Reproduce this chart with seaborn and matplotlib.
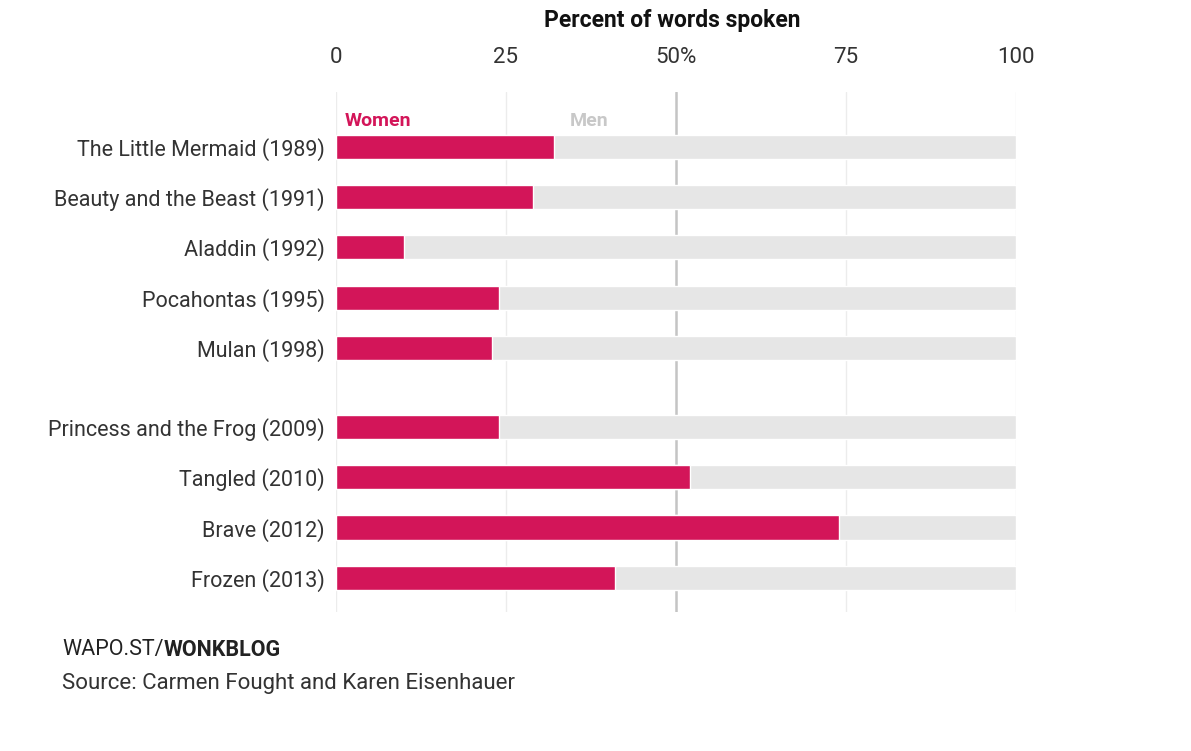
import matplotlib
matplotlib.use("Agg")
import matplotlib.pyplot as plt
import numpy as np
import pandas as pd
import seaborn as sns

# data
movies = ["The Little Mermaid (1989)", "Beauty and the Beast (1991)", "Aladdin (1992)",
          "Pocahontas (1995)", "Mulan (1998)", "Princess and the Frog (2009)",
          "Tangled (2010)", "Brave (2012)", "Frozen (2013)"]
women = [32, 29, 10, 24, 23, 24, 52, 74, 41]
men = [68, 71, 90, 76, 77, 76, 48, 26, 59]
ticks = [0, 25, 50, 75, 100]
tick_labels = ["0", "25", "50%", "75", "100"]

WOMEN_C = "#d31559"
MEN_C = "#e6e6e6"
TEXT_C = "#333333"

sns.set_theme(style="white")
plt.rcParams["font.family"] = ["Roboto", "DejaVu Sans"]

# gap between the 90s films and the newer ones
gap = 0.57
ypos = [i + (gap if i >= 5 else 0) for i in range(len(movies))]

df = pd.DataFrame({"movie": movies, "y": ypos, "Women": women, "Men": men})
df["total"] = df["Women"] + df["Men"]

fig = plt.figure(figsize=(11.91, 7.51), dpi=100)
ax = fig.add_axes([336 / 1191, 1 - 612 / 751, 680 / 1191, 520 / 751])

for x in ticks:
    if x == 50:
        ax.axvline(x, color="#c4c4c4", lw=1.8, zorder=0)
    else:
        ax.axvline(x, color="#ececec", lw=1.0, zorder=0)

sns.barplot(data=df, x="total", y="y", orient="h", native_scale=True,
            color=MEN_C, width=0.48, saturation=1, ax=ax, zorder=2)
sns.barplot(data=df, x="Women", y="y", orient="h", native_scale=True,
            color=WOMEN_C, width=0.48, saturation=1, ax=ax, zorder=3)

ax.set_xlim(0, 100)
ax.set_ylim(ypos[-1] + 0.68, -1.09)
ax.set_yticks(ypos)
ax.set_yticklabels(movies, fontsize=15.5, color=TEXT_C)
ax.set_xticks(ticks)
ax.set_xticklabels(tick_labels, fontsize=16, color=TEXT_C)
ax.xaxis.tick_top()
ax.tick_params(axis="x", length=0, pad=17)
ax.tick_params(axis="y", length=0, pad=8)
ax.set_xlabel("")
ax.set_ylabel("")
for s in ax.spines.values():
    s.set_visible(False)

ax.text(1.3, -0.52, "Women", color=WOMEN_C, fontsize=14, fontweight="bold",
        va="center", ha="left")
ax.text(34.4, -0.52, "Men", color="#c8c8c8", fontsize=14, fontweight="bold",
        va="center", ha="left")

fig.text(672 / 1191, 1 - 20 / 751, "Percent of words spoken", fontsize=16.5,
         fontweight="bold", color="#111111", ha="center", va="center")

# footer
fig.canvas.draw()
r = fig.canvas.get_renderer()
t1 = fig.text(62 / 1191, 1 - 650 / 751, "WAPO.ST/", fontsize=15.5, color="#222222",
              ha="left", va="center")
bb = t1.get_window_extent(renderer=r)
fig.text(bb.x1 / fig.bbox.width, 1 - 650 / 751, "WONKBLOG", fontsize=15.5,
         fontweight="bold", color="#222222", ha="left", va="center")
fig.text(62 / 1191, 1 - 684 / 751, "Source: Carmen Fought and Karen Eisenhauer",
         fontsize=16, color=TEXT_C, ha="left", va="center")

fig.savefig("out.png", dpi=100)
